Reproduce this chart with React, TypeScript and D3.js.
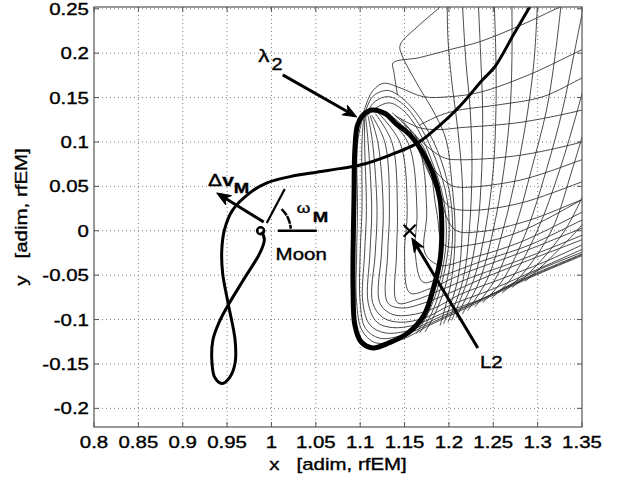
import React from 'react';
import * as d3 from 'd3';

type Pt = [number, number];

// axis ticks (MATLAB style labels)
const xTicks = [0.8, 0.85, 0.9, 0.95, 1, 1.05, 1.1, 1.15, 1.2, 1.25, 1.3, 1.35];
const xTickLabels = ['0.8', '0.85', '0.9', '0.95', '1', '1.05', '1.1', '1.15', '1.2', '1.25', '1.3', '1.35'];
const yTicks = [-0.2, -0.15, -0.1, -0.05, 0, 0.05, 0.1, 0.15, 0.2, 0.25];
const yTickLabels = ['-0.2', '-0.15', '-0.1', '-0.05', '0', '0.05', '0.1', '0.15', '0.2', '0.25'];

// thick transfer trajectory (ends at the Moon)
const transfer: Pt[] = [
  [1.302, 0.272], [1.291, 0.252], [1.274, 0.223], [1.252, 0.185], [1.238, 0.170], [1.212, 0.140],
  [1.190, 0.119], [1.165, 0.099], [1.133, 0.085], [1.100, 0.074], [1.077, 0.070], [1.051, 0.066],
  [1.021, 0.061], [0.995, 0.054], [0.976, 0.043], [0.956, 0.023], [0.947, 0.001], [0.944, -0.022],
  [0.945, -0.048], [0.951, -0.081], [0.959, -0.123], [0.959, -0.149], [0.953, -0.165], [0.944, -0.172],
  [0.936, -0.165], [0.933, -0.149], [0.934, -0.123], [0.942, -0.101], [0.951, -0.084], [0.968, -0.056],
  [0.987, -0.025], [0.992, -0.010], [0.989, -0.001],
];

// thick periodic orbit around L2 (closed)
const orbit: Pt[] = [
  [1.113, 0.136], [1.128, 0.132], [1.141, 0.120], [1.156, 0.108], [1.170, 0.089], [1.182, 0.065],
  [1.190, 0.035], [1.192, 0.001], [1.190, -0.033], [1.183, -0.063], [1.172, -0.095], [1.154, -0.115],
  [1.133, -0.126], [1.114, -0.132], [1.101, -0.125], [1.094, -0.106], [1.092, -0.067], [1.092, -0.022],
  [1.093, 0.035], [1.094, 0.091], [1.097, 0.119], [1.103, 0.130],
];

// thin manifold trajectories: rising branches
const upperBranches: Pt[][] = [
  [[1.190, -0.107], [1.203, -0.055], [1.207, 0.001], [1.203, 0.057], [1.197, 0.102], [1.185, 0.130], [1.165, 0.164], [1.147, 0.198], [1.145, 0.209], [1.167, 0.232], [1.190, 0.252], [1.197, 0.260]],
  [[1.194, -0.105], [1.210, -0.055], [1.215, 0.001], [1.215, 0.057], [1.210, 0.114], [1.203, 0.170], [1.199, 0.215], [1.198, 0.260]],
  [[1.199, -0.103], [1.216, -0.055], [1.223, 0.001], [1.226, 0.069], [1.224, 0.136], [1.219, 0.192], [1.215, 0.260]],
  [[1.203, -0.101], [1.221, -0.055], [1.232, 0.001], [1.237, 0.069], [1.238, 0.136], [1.236, 0.192], [1.233, 0.260]],
  [[1.208, -0.098], [1.228, -0.055], [1.241, 0.001], [1.250, 0.069], [1.253, 0.136], [1.253, 0.192], [1.251, 0.260]],
  [[1.215, -0.094], [1.235, -0.055], [1.250, 0.001], [1.262, 0.069], [1.269, 0.136], [1.271, 0.192], [1.271, 0.260]],
  [[1.221, -0.090], [1.243, -0.055], [1.261, 0.001], [1.277, 0.069], [1.289, 0.136], [1.296, 0.192], [1.300, 0.260]],
  [[1.229, -0.086], [1.252, -0.055], [1.274, 0.001], [1.293, 0.069], [1.310, 0.136], [1.319, 0.192], [1.327, 0.260]],
  [[1.238, -0.081], [1.261, -0.055], [1.288, 0.001], [1.310, 0.069], [1.328, 0.136], [1.342, 0.204], [1.352, 0.254]],
  [[1.248, -0.076], [1.271, -0.053], [1.300, 0.001], [1.325, 0.069], [1.345, 0.136], [1.354, 0.170]],
  [[1.260, -0.070], [1.282, -0.050], [1.316, 0.001], [1.339, 0.069], [1.354, 0.119]],
  [[1.271, -0.064], [1.296, -0.042], [1.331, 0.001], [1.354, 0.046]],
  [[1.286, -0.057], [1.310, -0.035], [1.345, 0.001], [1.359, 0.018]],
];

// thin trajectories looping over the top of the orbit
const topLoops: Pt[][] = [
  [[1.104, 0.128], [1.114, 0.151], [1.131, 0.158], [1.150, 0.147], [1.172, 0.120], [1.191, 0.080], [1.202, 0.035], [1.204, -0.010], [1.198, -0.055], [1.185, -0.092], [1.173, -0.114]],
  [[1.105, 0.128], [1.116, 0.145], [1.132, 0.151], [1.149, 0.142], [1.168, 0.117], [1.186, 0.078], [1.198, 0.035], [1.200, -0.010], [1.193, -0.055], [1.181, -0.092], [1.167, -0.115]],
  [[1.106, 0.128], [1.119, 0.139], [1.133, 0.144], [1.148, 0.136], [1.165, 0.114], [1.182, 0.075], [1.194, 0.035], [1.197, -0.010], [1.190, -0.055], [1.177, -0.092], [1.163, -0.116]],
  [[1.142, 0.153], [1.138, 0.179], [1.137, 0.189], [1.167, 0.195], [1.201, 0.204], [1.235, 0.213], [1.280, 0.231], [1.325, 0.252], [1.342, 0.260]],
  [[1.102, 0.127], [1.113, 0.156], [1.126, 0.166], [1.145, 0.161], [1.171, 0.151], [1.201, 0.151], [1.235, 0.156], [1.291, 0.176], [1.350, 0.204], [1.359, 0.208]],
  [[1.167, 0.119], [1.190, 0.130], [1.212, 0.136], [1.257, 0.142], [1.306, 0.151], [1.350, 0.172], [1.359, 0.176]],
];

// thin trajectories leaving the orbit to the right
const rightBranches: Pt[][] = [
  [[1.139, 0.130], [1.167, 0.116], [1.190, 0.114], [1.212, 0.116], [1.280, 0.122], [1.350, 0.136], [1.359, 0.139]],
  [[1.145, 0.127], [1.173, 0.097], [1.195, 0.082], [1.212, 0.080], [1.280, 0.085], [1.350, 0.100], [1.359, 0.103]],
  [[1.150, 0.119], [1.179, 0.074], [1.201, 0.052], [1.212, 0.049], [1.280, 0.057], [1.350, 0.080], [1.359, 0.083]],
  [[1.156, 0.114], [1.184, 0.052], [1.201, 0.027], [1.224, 0.023], [1.280, 0.031], [1.350, 0.055], [1.359, 0.058]],
  [[1.162, 0.108], [1.190, 0.035], [1.207, 0.001], [1.235, -0.001], [1.291, 0.012], [1.350, 0.035], [1.359, 0.038]],
];

// thin trajectories through the inside of the orbit
const innerBranches: Pt[][] = [
  [[1.103, 0.128], [1.097, 0.099], [1.097, 0.023], [1.096, -0.025], [1.096, -0.081], [1.102, -0.112], [1.117, -0.126], [1.145, -0.123], [1.179, -0.106], [1.224, -0.085], [1.291, -0.053], [1.350, -0.028], [1.359, -0.024]],
  [[1.104, 0.128], [1.102, 0.099], [1.102, 0.023], [1.100, -0.025], [1.100, -0.081], [1.106, -0.110], [1.122, -0.121], [1.150, -0.117], [1.184, -0.102], [1.229, -0.081], [1.291, -0.052], [1.350, -0.027], [1.359, -0.023]],
  [[1.105, 0.128], [1.105, 0.099], [1.107, 0.023], [1.105, -0.025], [1.103, -0.081], [1.111, -0.106], [1.128, -0.115], [1.156, -0.112], [1.190, -0.097], [1.235, -0.078], [1.291, -0.051], [1.350, -0.026], [1.359, -0.022]],
  [[1.106, 0.129], [1.109, 0.099], [1.113, 0.023], [1.111, -0.025], [1.109, -0.081], [1.119, -0.103], [1.136, -0.109], [1.162, -0.106], [1.195, -0.092], [1.241, -0.075], [1.297, -0.046], [1.350, -0.024], [1.359, -0.020]],
  [[1.109, 0.129], [1.114, 0.099], [1.119, 0.023], [1.117, -0.025], [1.114, -0.081], [1.126, -0.098], [1.145, -0.103], [1.173, -0.098], [1.201, -0.084], [1.246, -0.067], [1.303, -0.042], [1.350, -0.021], [1.359, -0.017]],
  [[1.111, 0.130], [1.120, 0.099], [1.126, 0.023], [1.124, -0.025], [1.122, -0.081], [1.136, -0.094], [1.156, -0.095], [1.184, -0.087], [1.212, -0.072], [1.257, -0.055], [1.308, -0.035], [1.350, -0.016], [1.359, -0.012]],
  [[1.113, 0.130], [1.128, 0.099], [1.133, 0.023], [1.131, -0.025], [1.131, -0.081], [1.147, -0.087], [1.173, -0.081], [1.201, -0.070], [1.235, -0.055], [1.280, -0.037], [1.350, -0.010], [1.359, -0.006]],
  [[1.117, 0.132], [1.136, 0.099], [1.142, 0.023], [1.141, -0.025], [1.142, -0.081], [1.162, -0.078], [1.190, -0.067], [1.224, -0.053], [1.280, -0.033], [1.350, -0.005], [1.359, -0.001]],
  [[1.120, 0.133], [1.145, 0.099], [1.153, 0.023], [1.150, -0.025], [1.156, -0.070], [1.179, -0.065], [1.212, -0.050], [1.280, -0.025], [1.350, 0.003], [1.359, 0.007]],
  [[1.124, 0.134], [1.154, 0.099], [1.164, 0.023], [1.162, -0.025], [1.171, -0.058], [1.195, -0.050], [1.235, -0.035], [1.291, -0.016], [1.350, 0.012], [1.359, 0.016]],
  [[1.129, 0.134], [1.164, 0.099], [1.175, 0.023], [1.173, -0.025], [1.190, -0.039], [1.224, -0.031], [1.280, -0.013], [1.350, 0.021], [1.359, 0.026]],
  [[1.136, 0.133], [1.173, 0.091], [1.186, 0.023], [1.195, -0.016], [1.224, -0.016], [1.280, -0.001], [1.350, 0.035], [1.359, 0.040]],
];

const moon: Pt = [0.9878, 0];
const L2: Pt = [1.1557, 0];

// annotation arrows [from, to]
const arrows: [Pt, Pt][] = [
  [[1.0127, 0.1755], [1.0962, 0.1282]], // lambda_2
  [[1.2326, -0.1320], [1.1582, -0.0081]], // L2
  [[0.9913, 0.0099], [0.9383, 0.0426]], // delta v
];
const moonDirLine: [Pt, Pt] = [[0.9947, 0.0088], [1.0150, 0.0471]];
const moonRefLine: [Pt, Pt] = [[1.0071, 0], [1.0511, 0]];
const omegaArc = { r: 0.034, a0: 4, a1: 46 };

const W = 627;
const H = 481;
const M = { left: 94, right: 45, top: 7, bottom: 54 };
const FONT = '"Liberation Sans", Arial, Helvetica, sans-serif';

const Txt: React.FC<{ x: number; y: number; size?: number; anchor?: string; rotate?: number; weight?: string; children: React.ReactNode }> = ({ x, y, size = 16.5, anchor = 'start', rotate = 0, weight = 'normal', children }) => (
  <text
    transform={`translate(${x},${y}) rotate(${rotate}) scale(1.24,1)`}
    textAnchor={anchor}
    fontSize={size}
    fontFamily={FONT}
    fontWeight={weight}
    fill="#000"
    stroke="#000"
    strokeWidth={0.35}
    style={{ whiteSpace: 'pre' }}
  >
    {children}
  </text>
);

export default function App() {
  const iw = W - M.left - M.right;
  const ih = H - M.top - M.bottom;
  const x = d3.scaleLinear().domain([0.8, 1.35]).range([M.left, M.left + iw]);
  const y = d3.scaleLinear().domain([-0.221, 0.252]).range([M.top + ih, M.top]);

  const smooth = d3.line<Pt>().x(d => x(d[0])).y(d => y(d[1])).curve(d3.curveCatmullRom.alpha(0.5));
  const closed = d3.line<Pt>().x(d => x(d[0])).y(d => y(d[1])).curve(d3.curveCatmullRomClosed.alpha(0.5));

  const thin = [...upperBranches, ...topLoops, ...rightBranches, ...innerBranches];

  const arrowHead = (a: Pt, b: Pt) => {
    const x1 = x(a[0]), y1 = y(a[1]), x2 = x(b[0]), y2 = y(b[1]);
    const ang = Math.atan2(y2 - y1, x2 - x1);
    const len = 14, hw = 5.5, notch = 10;
    const c = Math.cos(ang), s = Math.sin(ang);
    const bx = x2 - len * c, by = y2 - len * s;
    const nx = x2 - notch * c, ny = y2 - notch * s;
    const pts = [
      [x2, y2],
      [bx - hw * s, by + hw * c],
      [nx, ny],
      [bx + hw * s, by - hw * c],
    ];
    return { line: [x1, y1, nx, ny], head: pts.map(p => p.join(',')).join(' ') };
  };

  const arc = d3.arc()({
    innerRadius: x(moon[0] + omegaArc.r) - x(moon[0]),
    outerRadius: x(moon[0] + omegaArc.r) - x(moon[0]),
    startAngle: (90 - omegaArc.a1) * Math.PI / 180,
    endAngle: (90 - omegaArc.a0) * Math.PI / 180,
  } as any) as string;

  return (
    <svg width={W} height={H} style={{ position: 'absolute', left: 0, top: 0, background: '#fff' }}>
      <defs>
        <clipPath id="plotArea">
          <rect x={M.left} y={M.top} width={iw} height={ih} />
        </clipPath>
      </defs>

      {/* grid */}
      <g stroke="#808080" strokeWidth={1} strokeDasharray="1,3">
        {xTicks.slice(1, -1).map(t => (
          <line key={'gx' + t} x1={x(t)} x2={x(t)} y1={M.top} y2={M.top + ih} />
        ))}
        {yTicks.map(t => (
          <line key={'gy' + t} x1={M.left} x2={M.left + iw} y1={y(t)} y2={y(t)} />
        ))}
      </g>

      <g clipPath="url(#plotArea)" fill="none">
        {thin.map((c, i) => (
          <path key={'m' + i} d={smooth(c) as string} stroke="#2a2a2a" strokeWidth={0.85} />
        ))}
        <path d={closed(orbit) as string} stroke="#000" strokeWidth={5} />
        <path d={smooth(transfer) as string} stroke="#000" strokeWidth={3} strokeLinejoin="round" />
      </g>

      {/* Moon marker */}
      <circle cx={x(moon[0])} cy={y(moon[1])} r={3.5} fill="none" stroke="#000" strokeWidth={2.5} />

      {/* L2 marker */}
      <g stroke="#000" strokeWidth={2.2}>
        <line x1={x(L2[0]) - 6} y1={y(L2[1]) - 6} x2={x(L2[0]) + 6} y2={y(L2[1]) + 6} />
        <line x1={x(L2[0]) - 6} y1={y(L2[1]) + 6} x2={x(L2[0]) + 6} y2={y(L2[1]) - 6} />
      </g>

      {/* annotations */}
      {arrows.map((a, i) => {
        const h = arrowHead(a[0], a[1]);
        return (
          <g key={'a' + i}>
            <line x1={h.line[0]} y1={h.line[1]} x2={h.line[2]} y2={h.line[3]} stroke="#000" strokeWidth={3} />
            <polygon points={h.head} fill="#000" stroke="#000" strokeWidth={1} strokeLinejoin="miter" />
          </g>
        );
      })}
      <line x1={x(moonDirLine[0][0])} y1={y(moonDirLine[0][1])} x2={x(moonDirLine[1][0])} y2={y(moonDirLine[1][1])} stroke="#000" strokeWidth={2.2} />
      <line x1={x(moonRefLine[0][0])} y1={y(moonRefLine[0][1])} x2={x(moonRefLine[1][0])} y2={y(moonRefLine[1][1])} stroke="#000" strokeWidth={2.5} />
      <path d={arc} transform={`translate(${x(moon[0])},${y(moon[1])})`} fill="none" stroke="#000" strokeWidth={2.5} strokeDasharray="5,4" />

      <Txt x={x(0.9852)} y={y(0.190)} size={18}>λ</Txt>
      <Txt x={x(1.0)} y={y(0.181)} size={16}>2</Txt>
      <Txt x={x(1.2350)} y={y(-0.1545)}>L2</Txt>
      <Txt x={x(0.9284)} y={y(0.0505)} size={17}>Δ</Txt>
      <Txt x={x(0.9445)} y={y(0.0505)} size={17} weight="bold">v</Txt>
      <Txt x={x(0.9575)} y={y(0.0426)} size={15} weight="bold">M</Txt>
      <Txt x={x(1.0285)} y={y(0.0201)} size={14}>ω</Txt>
      <Txt x={x(1.0465)} y={y(0.0099)} size={15} weight="bold">M</Txt>
      <Txt x={x(1.0047)} y={y(-0.0329)}>Moon</Txt>

      {/* axes box and ticks */}
      <rect x={M.left} y={M.top} width={iw} height={ih} fill="none" stroke="#555" strokeWidth={1.2} />
      <g stroke="#555" strokeWidth={1}>
        {xTicks.map(t => (
          <g key={'tx' + t}>
            <line x1={x(t)} x2={x(t)} y1={M.top + ih} y2={M.top + ih - 5} />
            <line x1={x(t)} x2={x(t)} y1={M.top} y2={M.top + 5} />
          </g>
        ))}
        {yTicks.map(t => (
          <g key={'ty' + t}>
            <line x1={M.left} x2={M.left + 5} y1={y(t)} y2={y(t)} />
            <line x1={M.left + iw} x2={M.left + iw - 5} y1={y(t)} y2={y(t)} />
          </g>
        ))}
      </g>

      {xTicks.map((t, i) => (
        <Txt key={'lx' + t} x={x(t)} y={M.top + ih + 21} anchor="middle">{xTickLabels[i]}</Txt>
      ))}
      {yTicks.map((t, i) => (
        <Txt key={'ly' + t} x={M.left - 5} y={y(t) + 6} anchor="end">{yTickLabels[i]}</Txt>
      ))}

      <Txt x={M.left + iw / 2} y={470} anchor="middle">{'x   [adim, rfEM]'}</Txt>
      <Txt x={27} y={M.top + ih / 2} anchor="middle" rotate={-90}>{'y   [adim, rfEM]'}</Txt>
    </svg>
  );
}
